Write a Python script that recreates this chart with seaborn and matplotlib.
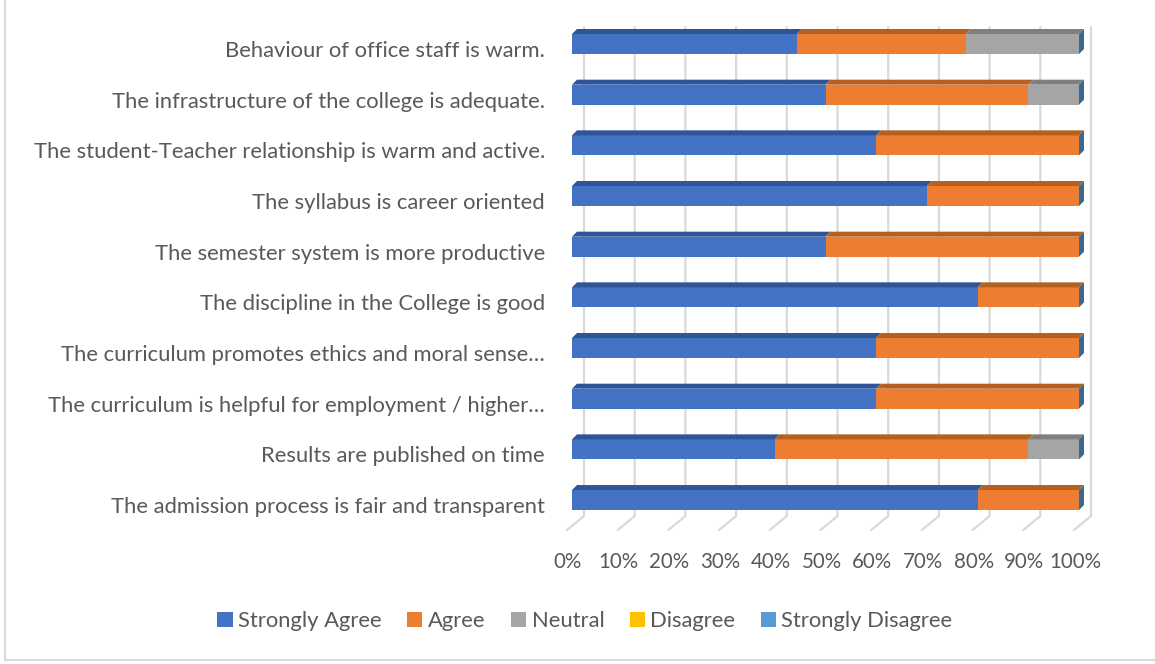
import matplotlib
matplotlib.use("Agg")
import matplotlib.pyplot as plt
import matplotlib.transforms as mtransforms
from matplotlib.patches import Polygon, Patch
from matplotlib.lines import Line2D
import numpy as np
import pandas as pd
import seaborn as sns

# ---- survey data (percent of respondents) ----
statements = [
    "Behaviour of office staff is warm.",
    "The infrastructure of the college is adequate.",
    "The student-Teacher relationship is warm and active.",
    "The syllabus is career oriented",
    "The semester system is more productive",
    "The discipline in the College is good",
    "The curriculum promotes ethics and moral sense\u2026",
    "The curriculum is helpful for employment / higher\u2026",
    "Results are published on time",
    "The admission process is fair and transparent",
]
strongly_agree = [44.4, 50, 60, 70, 50, 80, 60, 60, 40, 80]
agree = [33.3, 40, 40, 30, 50, 20, 40, 40, 50, 20]
neutral = [22.3, 10, 0, 0, 0, 0, 0, 0, 10, 0]
disagree = [0, 0, 0, 0, 0, 0, 0, 0, 0, 0]
strongly_disagree = [0, 0, 0, 0, 0, 0, 0, 0, 0, 0]

series_names = ["Strongly Agree", "Agree", "Neutral", "Disagree", "Strongly Disagree"]
series_values = [strongly_agree, agree, neutral, disagree, strongly_disagree]
front_colors = ["#4472C4", "#ED7D31", "#A5A5A5", "#FFC000", "#5B9BD5"]
top_colors = ["#2F5597", "#B5601F", "#7F7F7F", "#BF9000", "#41719C"]
cap_color = "#3A6890"
x_ticks = list(range(0, 101, 10))
x_tick_labels = [f"{t}%" for t in x_ticks]

sns.set_theme(style="white")
plt.rcParams["font.family"] = ["Lato", "DejaVu Sans"]
text_color = "#595959"
fs = 15.8
fs_ticks = 14.8

W, H = 1155, 664
fig = plt.figure(figsize=(W / 100, H / 100), dpi=100)

# axes geometry in pixels
ax_left_px, ax_right_px = 560, 1100
ax_top_px, ax_bottom_px = 20, 530
zero_px, full_px = 572, 1079
first_center_px, step_px = 44, 50.67

ax = fig.add_axes([ax_left_px / W, 1 - ax_bottom_px / H,
                   (ax_right_px - ax_left_px) / W, (ax_bottom_px - ax_top_px) / H])

ux = 100 / (full_px - zero_px)      # data units per pixel (x)
uy = 1 / step_px                    # category units per pixel (y)

df = pd.DataFrame({"statement": statements})
for name, vals in zip(series_names, series_values):
    df[name] = vals
cum = df[series_names].cumsum(axis=1)

bar_w = 20 * uy
# stacked: draw cumulative totals from the outermost series inward
for i in reversed(range(len(series_names))):
    sns.barplot(data=cum.assign(statement=statements), x=series_names[i], y="statement",
                orient="h", color=front_colors[i], saturation=1, width=bar_w,
                order=statements, ax=ax, zorder=3, edgecolor="none")

# 3D top faces and end caps
dx, dy = 5 * ux, 5 * uy
starts = cum.shift(axis=1, fill_value=0)
for r in range(len(statements)):
    yt = r - bar_w / 2
    yb = r + bar_w / 2
    for s, name in enumerate(series_names):
        x0, x1 = starts.iloc[r][name], cum.iloc[r][name]
        if x1 - x0 <= 0:
            continue
        ax.add_patch(Polygon([(x0, yt), (x1, yt), (x1 + dx, yt - dy), (x0 + dx, yt - dy)],
                             closed=True, facecolor=top_colors[s], edgecolor="none", zorder=4))
    xe = cum.iloc[r][series_names[-1]]
    ax.add_patch(Polygon([(xe, yt), (xe + dx, yt - dy), (xe + dx, yb - dy), (xe, yb)],
                         closed=True, facecolor=cap_color, edgecolor="none", zorder=4))

# back-wall gridlines with floor slants
g_off = 12 * ux
g_top = (27 - first_center_px) * uy
g_bot = (516 - first_center_px) * uy
g_floor = (530 - first_center_px) * uy
for t in x_ticks:
    xb = t + g_off
    ax.add_line(Line2D([xb, xb, t - 5 * ux], [g_top, g_bot, g_floor],
                       color="#D9D9D9", lw=1.6, zorder=1, clip_on=False))

ax.set_xlim(-(zero_px - ax_left_px) * ux, 100 + (ax_right_px - full_px) * ux)
ax.set_ylim((ax_bottom_px - first_center_px) * uy, (ax_top_px - first_center_px) * uy)

ax.set_xticks(x_ticks)
ax.set_xticklabels(x_tick_labels, fontsize=fs_ticks, color=text_color)
ax.tick_params(axis="x", length=0, pad=15.5)
ax.tick_params(axis="y", length=0, pad=10.8)
ax.set_yticks(range(len(statements)))
ax.set_yticklabels(statements, fontsize=fs, color=text_color)
for lbl in ax.get_xticklabels():
    lbl.set_transform(lbl.get_transform() + mtransforms.ScaledTranslation(-0.04, 0, fig.dpi_scale_trans))
for lbl in ax.get_yticklabels():
    lbl.set_transform(lbl.get_transform() + mtransforms.ScaledTranslation(0, -0.05, fig.dpi_scale_trans))
ax.set_xlabel("")
ax.set_ylabel("")
for sp in ax.spines.values():
    sp.set_visible(False)
ax.set_facecolor("none")

handles = [Patch(facecolor=c, edgecolor="none") for c in front_colors]
fig.legend(handles, series_names, loc="center", bbox_to_anchor=(585 / W, 1 - 621 / H),
           ncol=5, frameon=False, fontsize=fs, handlelength=0.7, handleheight=0.7,
           handletextpad=0.25, columnspacing=1.15, labelcolor=text_color)

# chart border
fig.add_artist(Line2D([5 / W, 5 / W, 1], [1, 1 - 659.5 / H, 1 - 659.5 / H],
                      transform=fig.transFigure, color="#D9D9D9", lw=1.5))

fig.savefig("out.png", dpi=100)
